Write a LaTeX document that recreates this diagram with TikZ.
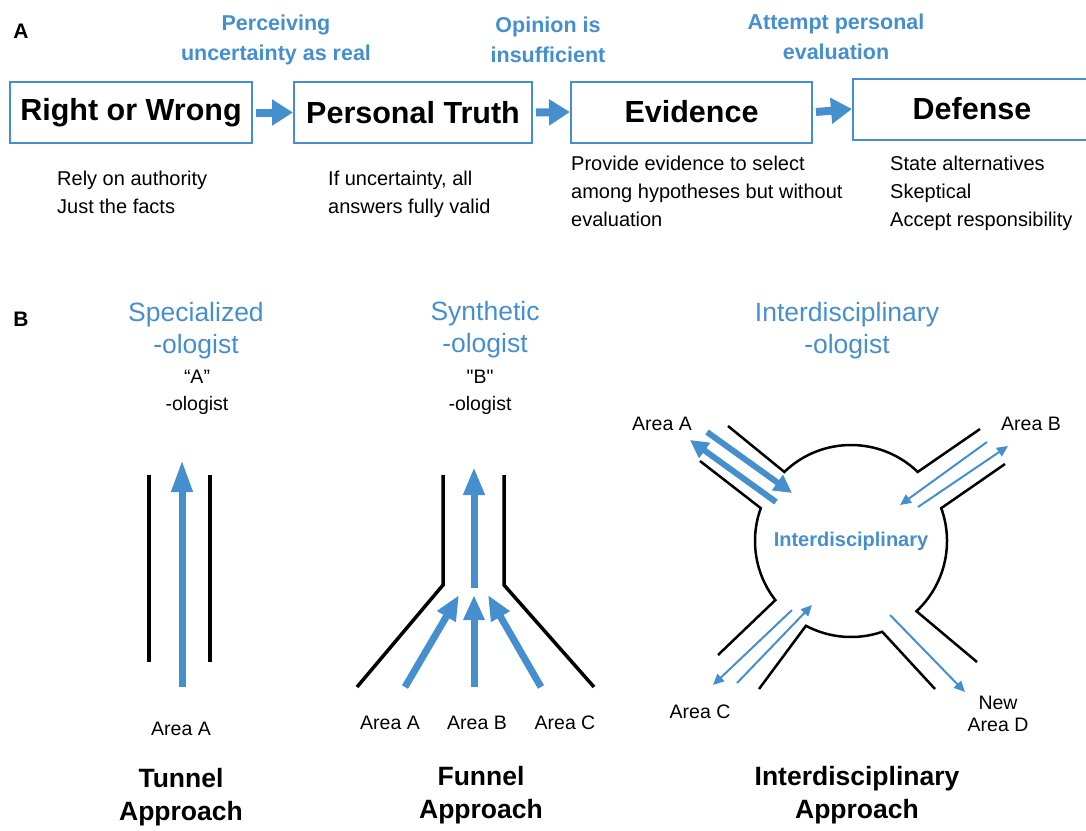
\documentclass[tikz,border=0pt]{standalone}
\usepackage{fontspec}
\setmainfont{Liberation Sans}
\usetikzlibrary{arrows.meta}
\definecolor{ideablue}{RGB}{70,143,207}
\tikzset{
  stagebox/.style={draw=ideablue, line width=2pt, inner sep=0pt, minimum height=61pt,
    font=\fontsize{30.5}{34}\selectfont\bfseries},
  stagearrow/.style={ideablue, line width=8pt, -{Triangle[length=21pt,width=25pt]}},
  steptext/.style={ideablue, align=center, font=\fontsize{21.5}{30}\selectfont\bfseries},
  notetext/.style={anchor=north west, inner sep=0pt, align=left, font=\fontsize{20}{28}\selectfont},
  paneltag/.style={font=\fontsize{21}{24}\selectfont\bfseries},
  rolename/.style={ideablue, align=center, font=\fontsize{26.5}{32}\selectfont},
  rolesub/.style={align=center, font=\fontsize{19.5}{27}\selectfont},
  arealabel/.style={align=center, font=\fontsize{19.5}{22}\selectfont},
  approachname/.style={align=center, font=\fontsize{26.5}{33}\selectfont\bfseries},
  hubtext/.style={ideablue, font=\fontsize{20}{24}\selectfont\bfseries},
  wallline/.style={line width=3.5pt, line join=miter},
  rimline/.style={line width=2.5pt, line join=miter},
  flowarrow/.style={ideablue, line width=7pt, -{Triangle[length=28pt,width=20pt]}},
  flowthick/.style={ideablue, line width=6pt, -{Triangle[length=18pt,width=18pt]}},
  flowthin/.style={ideablue, line width=2pt, -{Triangle[length=11pt,width=10pt]}},
}
\begin{document}
\begin{tikzpicture}[x=1pt, y=-1pt]
    \useasboundingbox (0,0) rectangle (1086,830);
    % A: stages
    \node[paneltag] (tagA) at (21,31) {A};
    \node[stagebox, minimum width=242pt] (rw) at (131,112.5) {Right or Wrong};
    \node[stagebox, minimum width=238pt] (pt) at (413,112.5) {Personal Truth};
    \node[stagebox, minimum width=241pt] (ev) at (691.5,112) {Evidence};
    \node[stagebox, minimum width=238pt] (df) at (972,109) {Defense};
    \draw[stagearrow] ([xshift=3pt]rw.east) -- (pt.west);
    \draw[stagearrow] ([xshift=3pt]pt.east) -- (ev.west);
    \draw[stagearrow] ([xshift=3pt]ev.east) -- (df.west);
    \node[steptext] (s1) at (276,40) {Perceiving\\uncertainty as real};
    \node[steptext] (s2) at (548,40) {Opinion is\\insufficient};
    \node[steptext] (s3) at (836,37) {Attempt personal\\evaluation};
    \node[notetext] (n1) at (57,171) {Rely on authority\\Just the facts};
    \node[notetext] (n2) at (328,171) {If uncertainty, all\\answers fully valid};
    \node[notetext] (n3) at (571,156) {Provide evidence to select\\among hypotheses but without\\evaluation};
    \node[notetext] (n4) at (890,156) {State alternatives\\Skeptical\\Accept responsibility};
    % B: tunnel
    \node[paneltag] (tagB) at (21,319) {B};
    \node[rolename] (spec) at (196,331) {Specialized\\-ologist};
    \node[rolesub] (aol) at (197,392) {“A”\\-ologist};
    \draw[wallline] (149,475) -- (149,662) (210,475) -- (210,662);
    \coordinate (tin) at (182,687);
    \coordinate (tout) at (182,460);
    \draw[flowarrow, -{Triangle[length=32pt,width=20pt]}] (tin) -- (tout);
    \node[arealabel] (ta) at (181,729) {Area A};
    \node[approachname] (tun) at (181,797) {Tunnel\\Approach};
    % B: funnel
    \node[rolename] (syn) at (485,330) {Synthetic\\-ologist};
    \node[rolesub] (bol) at (480,392) {\textquotedbl B\textquotedbl\\-ologist};
    \draw[wallline] (443,475) -- (443,585) -- (357,687) (504,475) -- (504,585) -- (594,687);
    \draw[flowarrow] (474,588) -- (474,467);
    \foreach \sx/\tx in {405/459, 474/474, 541/488}
        \draw[flowarrow, -{Triangle[length=25pt,width=20pt]}] (\sx,687) -- (\tx,595);
    \node[arealabel] (fa) at (390,723) {Area A};
    \node[arealabel] (fb) at (477,723) {Area B};
    \node[arealabel] (fc) at (565,723) {Area C};
    \node[approachname] (fun) at (481,795) {Funnel\\Approach};
    % B: interdisciplinary
    \node[rolename] (inter) at (847,331) {Interdisciplinary\\-ologist};
    \coordinate (hub) at (851,541);
    \draw[rimline] (728,426) -- ([shift={(-134:96)}]hub) arc[start angle=-134, end angle=-46, radius=96] -- (980,429);
    \draw[rimline] (1005,464) -- ([shift={(-20:96)}]hub) arc[start angle=-20, end angle=47, radius=96] -- (977,662);
    \draw[rimline] (935,689) -- ([shift={(71:96)}]hub) arc[start angle=71, end angle=118, radius=96] -- (759,689);
    \draw[rimline] (718,655) -- ([shift={(142:96)}]hub) arc[start angle=142, end angle=200, radius=96] -- (700,461);
    \draw[flowthick] (707,432) -- (792,493);
    \draw[flowthick] (776,502) -- (690,440);
    \draw[flowthin] (987,442) -- (900,505);
    \draw[flowthin] (918,507) -- (1008,446);
    \draw[flowthin] (792,610) -- (713,685);
    \draw[flowthin] (737,683) -- (812,605);
    \draw[flowthin] (890,615) -- (965,692);
    \node[hubtext] (hubname) at (hub) {Interdisciplinary};
    \node[arealabel] (ia) at (662,424) {Area A};
    \node[arealabel] (ib) at (1031,424) {Area B};
    \node[arealabel] (ic) at (700,712) {Area C};
    \node[arealabel] (id) at (998,714) {New\\Area D};
    \node[approachname] (intap) at (857,795) {Interdisciplinary\\Approach};
\end{tikzpicture}
\end{document}
